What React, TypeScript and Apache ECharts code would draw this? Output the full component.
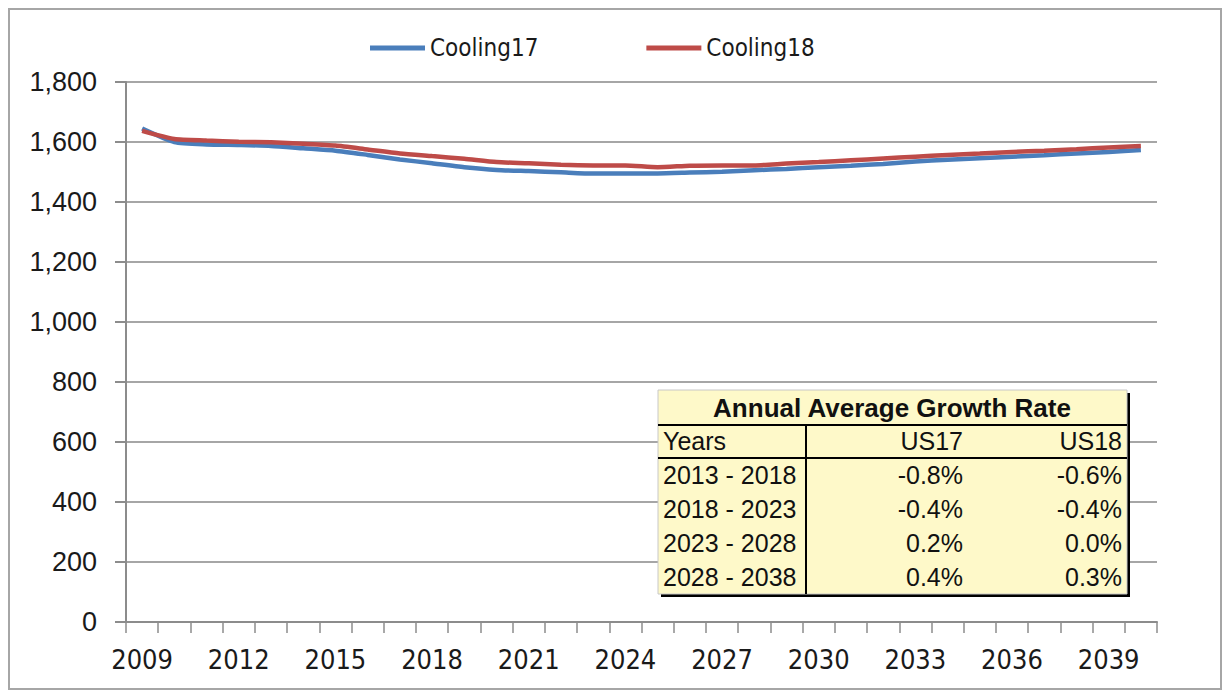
import React, { useEffect, useRef } from "react";
import * as echarts from "echarts";

const years = [
  "2009", "2010", "2011", "2012", "2013", "2014", "2015", "2016", "2017", "2018",
  "2019", "2020", "2021", "2022", "2023", "2024", "2025", "2026", "2027", "2028",
  "2029", "2030", "2031", "2032", "2033", "2034", "2035", "2036", "2037", "2038",
  "2039", "2040",
];
const cooling17 = [
  1645, 1600, 1592, 1590, 1587, 1579, 1571, 1557, 1542, 1529,
  1516, 1507, 1503, 1499, 1495, 1495, 1495, 1498, 1501, 1506,
  1510, 1516, 1521, 1527, 1535, 1541, 1546, 1551, 1556, 1562,
  1567, 1573,
];
const cooling18 = [
  1637, 1610, 1605, 1601, 1599, 1594, 1588, 1575, 1562, 1553,
  1544, 1533, 1529, 1524, 1522, 1522, 1516, 1521, 1522, 1522,
  1528, 1533, 1539, 1545, 1551, 1557, 1562, 1567, 1571, 1576,
  1582, 1587,
];
const yTicks = { min: 0, max: 1800, interval: 200 };

const tableTitle = "Annual Average Growth Rate";
const tableHeader = ["Years", "US17", "US18"];
const tablePeriods = ["2013 - 2018", "2018 - 2023", "2023 - 2028", "2028 - 2038"];
const tableUS17 = ["-0.8%", "-0.4%", "0.2%", "0.4%"];
const tableUS18 = ["-0.6%", "-0.4%", "0.0%", "0.3%"];

const NARROW = "'Liberation Sans Narrow', 'DejaVu Sans Condensed', 'Liberation Sans', sans-serif";
const ARIAL = "'Liberation Sans', Arial, sans-serif";

export default function App() {
  const ref = useRef<HTMLDivElement>(null);

  useEffect(() => {
    document.body.style.margin = "0";
    if (!ref.current) return;
    const chart = echarts.init(ref.current, undefined, { renderer: "svg" });

    const tx = 658, ty = 390, tw = 469, th = 204;
    const rowY0 = 475, rowH = 34;
    const textColor = "#111111";
    const Z = 100;
    const els: any[] = [];
    els.push({ type: "rect", z: Z, shape: { x: tx + 3, y: ty + 3, width: tw, height: th }, style: { fill: "#000000" } });
    els.push({ type: "rect", z: Z + 1, shape: { x: tx, y: ty, width: tw, height: th }, style: { fill: "#fef9c9", stroke: "#c8c8c8", lineWidth: 1 } });
    els.push({ type: "line", z: Z + 2, shape: { x1: tx, y1: 425, x2: tx + tw, y2: 425 }, style: { stroke: "#000000", lineWidth: 2 } });
    els.push({ type: "line", z: Z + 2, shape: { x1: tx, y1: 458, x2: tx + tw, y2: 458 }, style: { stroke: "#000000", lineWidth: 2 } });
    els.push({ type: "line", z: Z + 2, shape: { x1: 806, y1: 425, x2: 806, y2: ty + th }, style: { stroke: "#000000", lineWidth: 2 } });
    const txt = (text: string, x: number, y: number, align: string, bold = false) => ({
      type: "text", z: Z + 3, x, y,
      style: {
        text, fill: textColor, align, verticalAlign: "middle",
        font: `${bold ? "bold 26px" : "25px"} ${ARIAL}`,
      },
    });
    els.push(txt(tableTitle, 892, 408, "center", true));
    els.push(txt(tableHeader[0], 663, 441, "left"));
    els.push(txt(tableHeader[1], 963, 441, "right"));
    els.push(txt(tableHeader[2], 1122, 441, "right"));
    tablePeriods.forEach((p, i) => {
      const y = rowY0 + i * rowH;
      els.push(txt(p, 663, y, "left"));
      els.push(txt(tableUS17[i], 963, y, "right"));
      els.push(txt(tableUS18[i], 1122, y, "right"));
    });

    chart.setOption({
      animation: false,
      backgroundColor: "#ffffff",
      grid: { left: 126, right: 68, top: 82, bottom: 72, containLabel: false },
      legend: {
        left: 365,
        top: 31,
        icon: "rect",
        itemWidth: 55,
        itemHeight: 5,
        itemGap: 108,
        textStyle: { fontFamily: NARROW, fontSize: 24, color: "#1a1a1a" },
        data: ["Cooling17", "Cooling18"],
      },
      xAxis: {
        type: "category",
        data: years,
        boundaryGap: true,
        axisLine: { show: true, lineStyle: { color: "#8c8c8c", width: 2 } },
        axisTick: { show: true, interval: 0, length: 11, lineStyle: { color: "#8c8c8c", width: 1.5 } },
        axisLabel: { interval: 2, margin: 24, fontFamily: NARROW, fontSize: 27, color: "#1a1a1a" },
        splitLine: { show: false },
      },
      yAxis: {
        type: "value",
        min: yTicks.min,
        max: yTicks.max,
        interval: yTicks.interval,
        axisLine: { show: true, lineStyle: { color: "#8c8c8c", width: 2 } },
        axisTick: { show: true, length: 11, lineStyle: { color: "#8c8c8c", width: 2 } },
        axisLabel: {
          margin: 29,
          fontFamily: ARIAL,
          fontSize: 27,
          color: "#1a1a1a",
          formatter: (v: number) => v.toLocaleString("en-US"),
        },
        splitLine: { show: true, lineStyle: { color: "#a6a6a6", width: 2 } },
      },
      series: [
        {
          name: "Cooling17",
          type: "line",
          data: cooling17,
          smooth: 0.2,
          showSymbol: false,
          symbol: "none",
          lineStyle: { color: "#4a7ebb", width: 4.5 },
          itemStyle: { color: "#4a7ebb" },
          z: 2,
        },
        {
          name: "Cooling18",
          type: "line",
          data: cooling18,
          smooth: 0.2,
          showSymbol: false,
          symbol: "none",
          lineStyle: { color: "#be4b48", width: 4.5 },
          itemStyle: { color: "#be4b48" },
          z: 3,
        },
      ],
      graphic: [
        {
          type: "rect",
          z: 0,
          silent: true,
          shape: { x: 9, y: 9, width: 1212, height: 680 },
          style: { fill: "none", stroke: "#a6a6a6", lineWidth: 2 },
        },
        ...els,
      ],
    });

    return () => chart.dispose();
  }, []);

  return <div ref={ref} style={{ width: 1225, height: 694 }} />;
}
